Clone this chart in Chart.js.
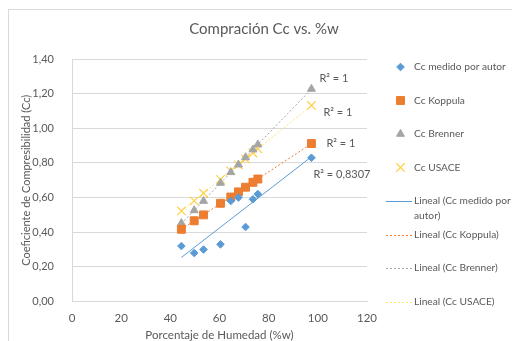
<!DOCTYPE html>
<html><head><meta charset="utf-8">
<script src="https://cdn.jsdelivr.net/npm/chart.js@4"></script>
<style>html,body{margin:0;padding:0;background:#fff;overflow:hidden}canvas{display:block}</style>
</head><body>
<canvas id="c" width="512" height="341"></canvas>
<script>
// ---- data ----
const moisture   = [44.5, 49.7, 53.5, 60.4, 64.6, 67.7, 70.6, 73.6, 75.6, 97.4];
const ccAutor    = [0.32, 0.28, 0.30, 0.33, 0.58, 0.60, 0.43, 0.59, 0.62, 0.83];
const ccKoppula  = [0.417, 0.466, 0.50, 0.567, 0.603, 0.633, 0.66, 0.688, 0.707, 0.912];
const ccBrenner  = [0.452, 0.526, 0.58, 0.684, 0.746, 0.79, 0.832, 0.877, 0.906, 1.227];
const ccUsace    = [0.523, 0.581, 0.625, 0.705, 0.754, 0.789, 0.823, 0.857, 0.881, 1.132];
const seriesNames = ['Cc medido por autor', 'Cc Koppula', 'Cc Brenner', 'Cc USACE'];
const trendNames  = ['Lineal (Cc medido por autor)', 'Lineal (Cc Koppula)', 'Lineal (Cc Brenner)', 'Lineal (Cc USACE)'];
const r2Labels    = ['R² = 0,8307', 'R² = 1', 'R² = 1', 'R² = 1'];
const xTicks      = [0, 20, 40, 60, 80, 100, 120];
const yTicks      = [0, 0.2, 0.4, 0.6, 0.8, 1.0, 1.2, 1.4];
const yTickLabels = ['0,00', '0,20', '0,40', '0,60', '0,80', '1,00', '1,20', '1,40'];
const chartTitle  = 'Compración Cc vs. %w';
const xTitle      = 'Porcentaje de Humedad (%w)';
const yTitle      = 'Coeficiente de Compresibilidad (Cc)';

// ---- styles ----
const TXT = '#595959';
const FONT = 'Lato';
const seriesValues = [ccAutor, ccKoppula, ccBrenner, ccUsace];
const styles = [
  {pointStyle:'rectRot',  radius:3.8, bg:'#5B9BD5', border:'#5B9BD5', bw:1, line:'#5B9BD5', dash:[]},
  {pointStyle:'rect',     radius:5.6, bg:'#ED7D31', border:'#ED7D31', bw:1, line:'#ED7D31', dash:[2,2]},
  {pointStyle:'triangle', radius:4.6, bg:'#A5A5A5', border:'#A5A5A5', bw:1, line:'#A5A5A5', dash:[2,2]},
  {pointStyle:'crossRot', radius:6,   bg:'#FFD24D', border:'#FFD24D', bw:1.3, line:'#FFE36B', dash:[2,2]}
];

function fit(xs, ys){
  const n = xs.length;
  const mx = xs.reduce((a,b)=>a+b,0)/n, my = ys.reduce((a,b)=>a+b,0)/n;
  let sxy=0, sxx=0;
  for(let i=0;i<n;i++){ sxy+=(xs[i]-mx)*(ys[i]-my); sxx+=(xs[i]-mx)**2; }
  const b = sxy/sxx, a = my - b*mx;
  return {a,b};
}

const datasets = [];
seriesValues.forEach((vals,i)=>{
  const s = styles[i];
  datasets.push({
    label: seriesNames[i],
    data: moisture.map((x,k)=>({x, y: vals[k]})),
    pointStyle: s.pointStyle, pointRadius: s.radius, pointHoverRadius: s.radius,
    backgroundColor: s.bg, borderColor: s.border, borderWidth: s.bw,
    showLine: false
  });
});
const xmin = Math.min(...moisture), xmax = Math.max(...moisture);
seriesValues.forEach((vals,i)=>{
  const s = styles[i];
  const f = fit(moisture, vals);
  datasets.push({
    label: trendNames[i],
    data: [{x:xmin, y:f.a+f.b*xmin}, {x:xmax, y:f.a+f.b*xmax}],
    showLine: true, pointRadius: 0, borderColor: s.line, borderWidth: 1,
    borderDash: s.dash, fill: false
  });
});

// R² label offsets relative to end of each trendline (px)
const r2Offsets = [[2,18],[15,0],[8,-11],[12,7]];

const decor = {
  id: 'decor',
  afterDraw(chart){
    const ctx = chart.ctx, ca = chart.chartArea;
    ctx.save();
    ctx.strokeStyle = '#d9d9d9'; ctx.lineWidth = 1;
    ctx.strokeRect(8.5, 9.5, 540, 360);
    ctx.fillStyle = TXT; ctx.textAlign = 'center'; ctx.textBaseline = 'middle';
    ctx.font = '15px ' + FONT;
    ctx.fillText(chartTitle, 264, 29);
    ctx.font = '11.5px ' + FONT;
    ctx.fillText(xTitle, (ca.left+ca.right)/2, 335);
    ctx.font = '11px ' + FONT;
    ctx.save();
    ctx.translate(26, (ca.top+ca.bottom)/2);
    ctx.rotate(-Math.PI/2);
    ctx.fillText(yTitle, 0, 0);
    ctx.restore();
    // R² labels
    ctx.textAlign = 'left';
    for(let i=0;i<4;i++){
      const meta = chart.getDatasetMeta(4+i);
      const p = meta.data[1];
      ctx.fillText(r2Labels[i], p.x + r2Offsets[i][0], p.y + r2Offsets[i][1]);
    }
    // legend
    const lx = 400.5, tx = 414, maxW = 98;
    const step = 33.5;
    const items = [];
    for(let i=0;i<4;i++) items.push({kind:'pt', i, text: seriesNames[i]});
    for(let i=0;i<4;i++) items.push({kind:'ln', i, text: trendNames[i]});
    items.forEach((it,k)=>{
      const yy = 67 + k*step;
      const s = styles[it.i];
      if(it.kind==='pt'){
        ctx.fillStyle = s.bg; ctx.strokeStyle = s.border; ctx.lineWidth = s.bw;
        Chart.helpers.drawPoint(ctx, {pointStyle:s.pointStyle, radius:s.radius, rotation:0, borderWidth:s.bw}, lx, yy);
      } else {
        ctx.save();
        ctx.strokeStyle = s.line; ctx.lineWidth = 1; ctx.setLineDash(s.dash);
        ctx.beginPath(); ctx.moveTo(386, Math.round(yy)+0.5); ctx.lineTo(412, Math.round(yy)+0.5); ctx.stroke();
        ctx.restore();
      }
      ctx.fillStyle = TXT; ctx.font = '10.2px ' + FONT; ctx.textAlign='left'; ctx.textBaseline='middle';
      const words = it.text.split(' ');
      const lines = []; let cur = '';
      words.forEach(w=>{
        const t = cur ? cur + ' ' + w : w;
        if(ctx.measureText(t).width > maxW && cur){ lines.push(cur); cur = w; } else cur = t;
      });
      lines.push(cur);
      lines.forEach((l,j)=>ctx.fillText(l, tx, yy + j*15));
    });
    ctx.restore();
  }
};

new Chart(document.getElementById('c'), {
  type: 'scatter',
  data: { datasets },
  options: {
    responsive: false, animation: false,
    layout: { padding: { top: 59, right: 145, left: 0, bottom: 0 } },
    plugins: { legend: { display: false }, tooltip: { enabled: false }, title: { display: false } },
    scales: {
      x: {
        type: 'linear', min: 0, max: 120,
        afterBuildTicks: s => { s.ticks = xTicks.map(v => ({value: v})); },
        afterFit: s => { s.height = 39.5; },
        grid: { display: false, drawTicks: false },
        border: { display: true, color: '#d9d9d9' },
        ticks: { padding: 10, color: TXT, font: { family: FONT, size: 11.5 }, callback: v => String(v) }
      },
      y: {
        type: 'linear', min: 0, max: 1.4,
        afterBuildTicks: s => { s.ticks = yTicks.map(v => ({value: v})); },
        afterFit: s => { s.width = 72; },
        grid: { color: '#d9d9d9', lineWidth: 1, drawTicks: false },
        border: { display: true, color: '#d9d9d9' },
        ticks: { padding: 18, color: TXT, font: { family: FONT, size: 11 },
                 callback: (v, i) => yTickLabels[yTicks.indexOf(v)] ?? yTickLabels[i] }
      }
    }
  },
  plugins: [decor]
});
</script>
</body></html>
